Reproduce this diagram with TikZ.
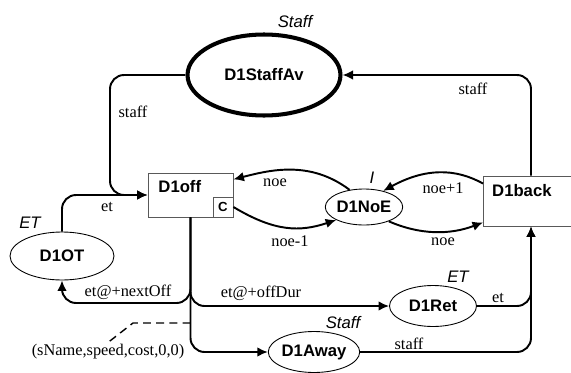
\documentclass[tikz,border=0pt]{standalone}
\usepackage{fontspec}
\setmainfont{Liberation Serif}
\setsansfont{Liberation Sans}
\usetikzlibrary{shapes.geometric,arrows.meta}

\tikzset{
  placenode/.style={ellipse,draw,line width=0.5pt,inner sep=0pt,
    font=\sffamily\bfseries\fontsize{9.5}{11}\selectfont},
  transbox/.style={rectangle,draw=black!65,line width=0.5pt,inner sep=0pt},
  boxname/.style={anchor=north west,inner sep=0pt,
    font=\sffamily\bfseries\fontsize{9.5}{11}\selectfont},
  arcline/.style={-{Latex[length=6pt,width=5.5pt]},line width=1.1pt,rounded corners=8pt},
  inscr/.style={font=\fontsize{9.3}{10}\selectfont,inner sep=1pt},
  colset/.style={font=\sffamily\itshape\fontsize{9.5}{11}\selectfont,inner sep=0pt}
}

\begin{document}
\begin{tikzpicture}[x=0.02cm,y=-0.02cm]
  \useasboundingbox (0,0) rectangle (571,372);
  \clip (0,0) rectangle (571,372);
  % places
  \node[placenode,line width=2.3pt,minimum width=3.06cm,minimum height=1.62cm] (staffav) at (264,75) {D1StaffAv};
  \node[colset] (staffavset) at (295,22) {Staff};
  \node[placenode,minimum width=1.36cm,minimum height=0.72cm] (noe) at (364,207) {D1NoE};
  \node[colset] (noeset) at (372,178) {I};
  \node[placenode,minimum width=2.08cm,minimum height=0.96cm] (ot) at (62,256) {D1OT};
  \node[colset] (otset) at (30,223) {ET};
  \node[placenode,minimum width=1.74cm,minimum height=0.82cm] (ret) at (433,306) {D1Ret};
  \node[colset] (retset) at (458,277) {ET};
  \node[placenode,minimum width=1.68cm,minimum height=0.82cm] (away) at (314,352) {D1Away};
  \node[colset] (awayset) at (343,323) {Staff};
  % transitions
  \node[transbox,minimum width=1.7cm,minimum height=0.88cm] (off) at (190.5,195) {};
  \node[boxname] (offname) at ([xshift=6pt,yshift=-4pt]off.north west) {D1off};
  \node[transbox,minimum width=0.4cm,minimum height=0.4cm,anchor=south east,
    font=\sffamily\bfseries\fontsize{7.5}{9}\selectfont] (offc) at (off.south east) {C};
  \node[transbox,minimum width=1.9cm,minimum height=1cm] (back) at (531,201) {};
  \node[boxname] (backname) at ([xshift=5pt,yshift=-5pt]back.north west) {D1back};
  % arcs
  \draw[arcline] (staffav.west) -| (110,195) -- (off.west);
  \node[inscr] (l1) at (133,112) {staff};
  \draw[arcline] (ot.north) |- (off.west);
  \node[inscr] (l2) at (107,207) {et};
  \draw[arcline] (back.north) |- (staffav.east);
  \node[inscr] (l3) at (473,89) {staff};
  \draw[arcline] (noe.130) .. controls (310,160) and (270,170) .. (off.20);
  \node[inscr] (l4) at (275,183) {noe};
  \draw[arcline] (offc.east) .. controls (275,232) and (300,232) .. (noe.205);
  \node[inscr] (l5) at (290,241) {noe-1};
  \draw[arcline] (back.160) .. controls (455,168) and (425,168) .. (noe.40);
  \node[inscr] (l6) at (443,188) {noe+1};
  \draw[arcline] (noe.-30) .. controls (420,235) and (450,235) .. (back.-156);
  \node[inscr] (l7) at (443,242) {noe};
  \draw[arcline] (off.south) -- (190.5,303) -| (ot.south);
  \node[inscr] (l8) at (128,292) {et@+nextOff};
  \draw[arcline] (off.south) |- (ret.west);
  \node[inscr] (l9) at (261,293) {et@+offDur};
  \draw[arcline] (off.south) |- (away.west);
  \draw[arcline] (ret.east) -| (back.south);
  \node[inscr] (l10) at (498,298) {et};
  \draw[arcline] (away.east) -| (back.south);
  \node[inscr] (l11) at (409,344) {staff};
  % initial marking
  \node[inscr] (initmark) at (108,352) {(sName,speed,cost,0,0)};
  \coordinate (dashend) at (190.5,323);
  \draw[dashed,dash pattern=on 4.5pt off 3pt,line width=0.8pt] (dashend) -- (133,323) -- (initmark.north);
\end{tikzpicture}
\end{document}
